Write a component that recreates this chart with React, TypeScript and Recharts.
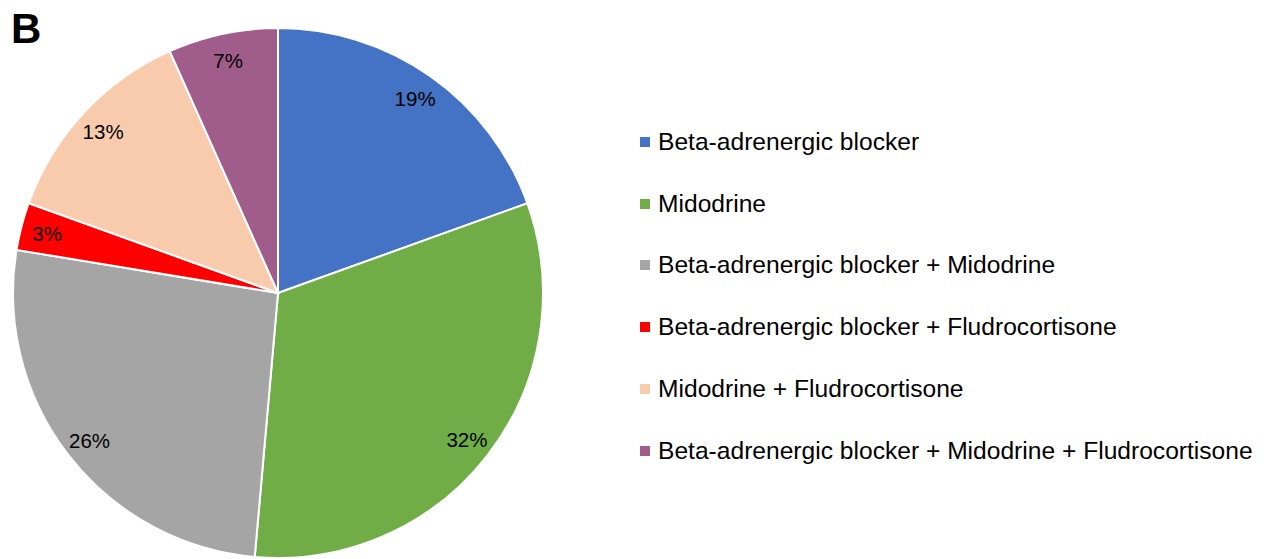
import React from "react";
import { PieChart, Pie, Cell, Legend } from "recharts";

const categories = [
  "Beta-adrenergic blocker",
  "Midodrine",
  "Beta-adrenergic blocker + Midodrine",
  "Beta-adrenergic blocker + Fludrocortisone",
  "Midodrine + Fludrocortisone",
  "Beta-adrenergic blocker + Midodrine + Fludrocortisone",
];
const shares = [19.5, 31.9, 26.2, 2.9, 12.8, 6.7];
const shareLabels = ["19%", "32%", "26%", "3%", "13%", "7%"];
const colors = ["#4472C4", "#70AD47", "#A5A5A5", "#FF0000", "#F8CBAD", "#A05C8A"];

const data = categories.map((name, i) => ({ name, value: shares[i], label: shareLabels[i] }));

const FONT = "'Liberation Sans', Arial, sans-serif";
const RAD = Math.PI / 180;

const renderLabel = (props: any) => {
  const { cx, cy, midAngle, outerRadius, payload, index } = props;
  const r = outerRadius * 0.9;
  const x = cx + r * Math.cos(-midAngle * RAD);
  const y = cy + r * Math.sin(-midAngle * RAD) + 1;
  const text = (payload && payload.label) || shareLabels[index];
  return (
    <text
      x={x}
      y={y}
      fill="#000"
      textAnchor="middle"
      dominantBaseline="central"
      fontSize={20.5}
      fontFamily={FONT}
    >
      {text}
    </text>
  );
};

const renderLegend = () => (
  <div style={{ fontFamily: FONT, fontSize: 24.6, color: "#000" }}>
    {categories.map((c, i) => (
      <div
        key={c}
        style={{ height: 61.8, display: "flex", alignItems: "center", whiteSpace: "nowrap" }}
      >
        <span
          style={{
            display: "inline-block",
            width: 10,
            height: 10,
            background: colors[i],
            marginRight: 8,
          }}
        />
        <span>{c}</span>
      </div>
    ))}
  </div>
);

export default function App() {
  return (
    <div style={{ position: "absolute", left: 0, top: 0, width: 1266, height: 559, background: "#fff" }}>
      <div
        style={{
          position: "absolute",
          left: 11,
          top: 6,
          fontFamily: FONT,
          fontWeight: "bold",
          fontSize: 42,
          lineHeight: "46px",
          color: "#000",
          zIndex: 2,
        }}
      >
        B
      </div>
      <PieChart width={1266} height={559} margin={{ top: 0, right: 0, bottom: 0, left: 0 }}>
        <Pie
          data={data}
          dataKey="value"
          nameKey="name"
          cx={278}
          cy={293}
          outerRadius={265}
          startAngle={90}
          endAngle={-270}
          stroke="#fff"
          strokeWidth={2}
          label={renderLabel}
          labelLine={false}
          isAnimationActive={false}
        >
          {data.map((d, i) => (
            <Cell key={d.name} fill={colors[i]} />
          ))}
        </Pie>
        <Legend
          layout="vertical"
          content={renderLegend}
          wrapperStyle={{ position: "absolute", left: 640, top: 111, width: 620 }}
        />
      </PieChart>
    </div>
  );
}
